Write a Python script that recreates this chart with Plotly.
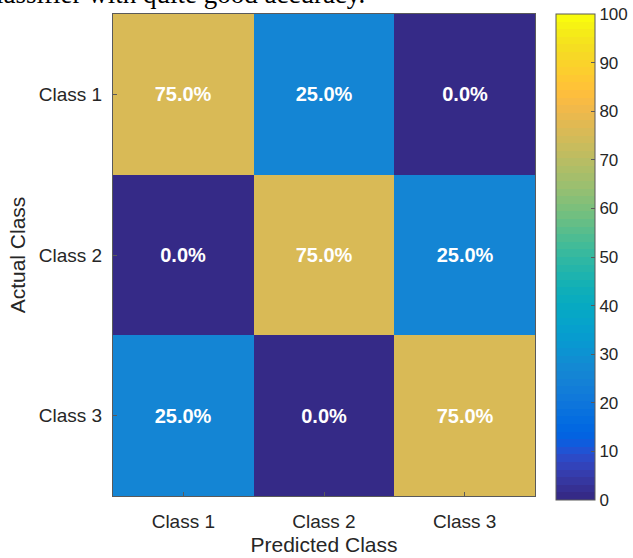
import plotly.graph_objects as go

# Confusion matrix (percent of each actual class)
classes = ["Class 1", "Class 2", "Class 3"]
actual_rows = ["Class 1", "Class 2", "Class 3"]
percent = [
    [75.0, 25.0, 0.0],
    [0.0, 75.0, 25.0],
    [25.0, 0.0, 75.0],
]
cbar_ticks = [0, 10, 20, 30, 40, 50, 60, 70, 80, 90, 100]

# MATLAB parula colormap (64 entries)
parula = [
    [0.2081, 0.1663, 0.5292], [0.2116, 0.1898, 0.5777], [0.2123, 0.2138, 0.6270], [0.2081, 0.2386, 0.6771],
    [0.1959, 0.2645, 0.7279], [0.1707, 0.2919, 0.7792], [0.1253, 0.3242, 0.8303], [0.0591, 0.3598, 0.8683],
    [0.0117, 0.3875, 0.8820], [0.0060, 0.4086, 0.8828], [0.0165, 0.4266, 0.8786], [0.0329, 0.4430, 0.8720],
    [0.0498, 0.4586, 0.8641], [0.0629, 0.4737, 0.8554], [0.0723, 0.4887, 0.8467], [0.0779, 0.5040, 0.8384],
    [0.0793, 0.5200, 0.8312], [0.0749, 0.5375, 0.8263], [0.0641, 0.5570, 0.8240], [0.0488, 0.5772, 0.8228],
    [0.0343, 0.5966, 0.8199], [0.0265, 0.6137, 0.8135], [0.0239, 0.6287, 0.8038], [0.0231, 0.6418, 0.7913],
    [0.0228, 0.6535, 0.7768], [0.0267, 0.6642, 0.7607], [0.0384, 0.6743, 0.7436], [0.0590, 0.6838, 0.7254],
    [0.0843, 0.6928, 0.7062], [0.1133, 0.7015, 0.6859], [0.1453, 0.7098, 0.6646], [0.1801, 0.7177, 0.6424],
    [0.2178, 0.7250, 0.6193], [0.2586, 0.7317, 0.5954], [0.3022, 0.7376, 0.5712], [0.3482, 0.7424, 0.5473],
    [0.3953, 0.7459, 0.5244], [0.4420, 0.7481, 0.5033], [0.4871, 0.7491, 0.4840], [0.5300, 0.7491, 0.4661],
    [0.5709, 0.7485, 0.4494], [0.6099, 0.7473, 0.4337], [0.6473, 0.7456, 0.4188], [0.6834, 0.7435, 0.4044],
    [0.7184, 0.7411, 0.3905], [0.7525, 0.7384, 0.3768], [0.7858, 0.7356, 0.3633], [0.8185, 0.7327, 0.3498],
    [0.8507, 0.7299, 0.3360], [0.8824, 0.7274, 0.3217], [0.9139, 0.7258, 0.3063], [0.9450, 0.7261, 0.2886],
    [0.9739, 0.7314, 0.2666], [0.9938, 0.7455, 0.2403], [0.9990, 0.7653, 0.2164], [0.9955, 0.7861, 0.1967],
    [0.9880, 0.8066, 0.1794], [0.9789, 0.8271, 0.1633], [0.9697, 0.8481, 0.1475], [0.9626, 0.8705, 0.1309],
    [0.9589, 0.8949, 0.1132], [0.9598, 0.9218, 0.0948], [0.9661, 0.9514, 0.0755], [0.9763, 0.9831, 0.0538],
]

# Stepped colorscale: each colormap entry covers an equal bin, like MATLAB's flat mapping
n = len(parula)
colorscale = []
for i, (r, g, b) in enumerate(parula):
    c = f"rgb({round(r * 255)},{round(g * 255)},{round(b * 255)})"
    colorscale.append([i / n, c])
    colorscale.append([(i + 1) / n, c])

text = [[f"{v:.1f}%" for v in row] for row in percent]

ink = "rgb(38,38,38)"
line = "rgb(90,90,90)"
sans = "Liberation Sans, Arial"

fig = go.Figure(
    go.Heatmap(
        z=percent,
        x=classes,
        y=actual_rows,
        text=text,
        texttemplate="%{text}",
        textfont=dict(family=sans, size=20, color="white", weight="bold"),
        colorscale=colorscale,
        zmin=0,
        zmax=100,
        hoverinfo="skip",
        colorbar=dict(
            x=1.05,
            xanchor="left",
            y=1,
            yanchor="top",
            len=486,
            lenmode="pixels",
            thickness=39,
            thicknessmode="pixels",
            xpad=0,
            ypad=0,
            outlinewidth=1,
            outlinecolor=line,
            tickvals=cbar_ticks,
            ticks="inside",
            ticklen=4,
            tickcolor=line,
            tickprefix="\u00a0",
            tickfont=dict(family=sans, size=17, color=ink),
        ),
    )
)

fig.update_layout(
    width=633,
    height=558,
    margin=dict(l=113, r=98, t=14, b=62, autoexpand=False),
    paper_bgcolor="white",
    plot_bgcolor="white",
    font=dict(family=sans, color=ink),
    xaxis=dict(
        title=dict(text="Predicted Class", font=dict(size=21, color=ink), standoff=6),
        tickfont=dict(size=19, color=ink),
        ticklabelstandoff=8,
        ticks="inside",
        ticklen=4,
        tickcolor=line,
        showline=True,
        linecolor=line,
        linewidth=1,
        mirror=True,
        showgrid=False,
        zeroline=False,
    ),
    yaxis=dict(
        title=dict(text="Actual Class", font=dict(size=21, color=ink), standoff=7),
        tickfont=dict(size=19, color=ink),
        ticklabelstandoff=6,
        autorange="reversed",
        ticks="inside",
        ticklen=4,
        tickcolor=line,
        showline=True,
        linecolor=line,
        linewidth=1,
        mirror=True,
        showgrid=False,
        zeroline=False,
    ),
    annotations=[
        dict(
            text="classifier with quite good accuracy.",
            xref="paper",
            yref="paper",
            x=(367 - 113) / 422,
            y=1 + 3 / 482,
            xanchor="right",
            yanchor="bottom",
            showarrow=False,
            font=dict(family="Liberation Serif, Times New Roman", size=27, color="black"),
        )
    ],
)

fig.write_html("out.html")
